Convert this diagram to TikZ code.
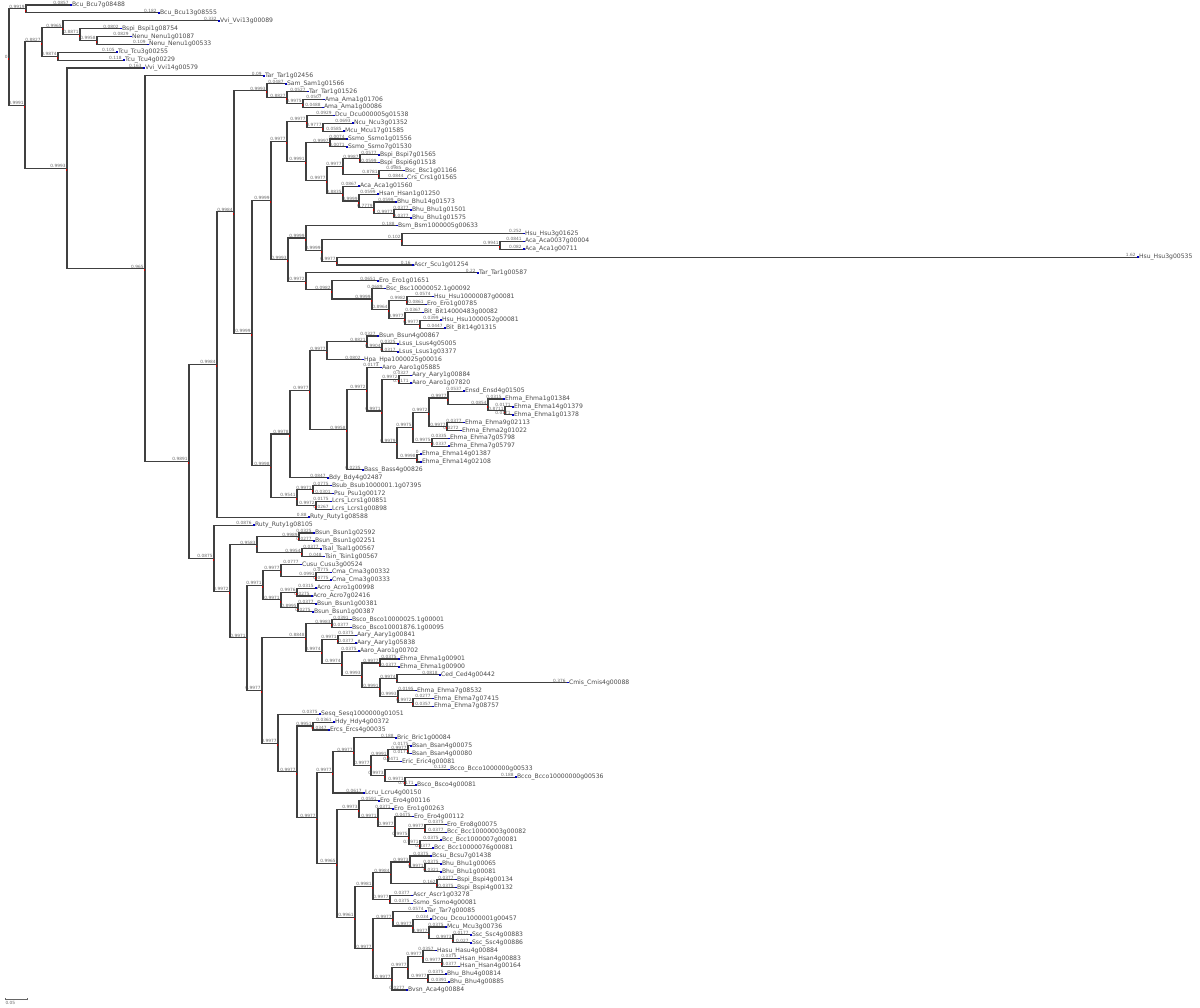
\documentclass[tikz,border=0pt]{standalone}
\usepackage{fontspec}
\setmainfont{DejaVu Sans}
\usetikzlibrary{calc}
\newcommand\TLeaf[5]{%
  \pgfmathsetmacro\tmpy{5+7.88*(#2-1)}%
  \expandafter\let\csname ty@#1\endcsname\tmpy
  \coordinate (#1) at (#3,\tmpy);
  \node[bl] (b-#1) at ([xshift=-1pt]#1) {#4};
  \fill[leafmark] ($(#1)+(0,-0.8)$) rectangle ++(1.6,1.6);
  \node[lf] (t-#1) at ([xshift=1.4pt]#1) {#5};
}
\newcommand\TNode[5]{%
  \edef\tmpa{\csname ty@#3\endcsname}\edef\tmpb{\csname ty@#4\endcsname}%
  \pgfmathsetmacro\tmpy{(\tmpa+\tmpb)/2}%
  \expandafter\let\csname ty@#1\endcsname\tmpy
  \coordinate (#1) at (#2,\tmpy);
  \draw[br] (#1) |- (#3);
  \draw[br] (#1) |- (#4);
  \fill[nodemark] ($(#1)+(-1.2,0.8)$) rectangle ++(1,1.8);
  \node[bl] (b-#1) at ([xshift=-1pt]#1) {#5};
}
\begin{document}
\begin{tikzpicture}[x=1pt,y=-1pt,
  br/.style={draw=black!75, line width=1.1pt},
  bl/.style={font=\fontsize{4.3}{4.3}\selectfont, text=black!58, inner sep=0.3pt, anchor=south east},
  lf/.style={font=\fontsize{6.1}{6.1}\selectfont, text=black!70, inner sep=0.4pt, anchor=west},
  leafmark/.style={fill=blue!75!black},
  nodemark/.style={fill=red!80!black}]
\fill[white] (0,0) rectangle (1200,1008);
\useasboundingbox (0,0) rectangle (1200,1008);
% ---------------- leaves ----------------
\TLeaf{l1}{1}{70}{0.0857}{Bcu\_Bcu7g08488}
\TLeaf{l2}{2}{158}{0.182}{Bcu\_Bcu13g08555}
\TLeaf{l3}{3}{218}{0.332}{Vvi\_Vvi13g00089}
\TLeaf{l4}{4}{120}{0.0802}{Bspi\_Bspi1g08754}
\TLeaf{l5}{5}{130}{0.0829}{Nenu\_Nenu1g01087}
\TLeaf{l6}{6}{147}{0.109}{Nenu\_Nenu1g00533}
\TLeaf{l7}{7}{116}{0.105}{Tcu\_Tcu3g00255}
\TLeaf{l8}{8}{123}{0.118}{Tcu\_Tcu4g00229}
\TLeaf{l9}{9}{143}{0.163}{Vvi\_Vvi14g00579}
\TLeaf{l10}{10}{263}{0.09}{Tar\_Tar1g02456}
\TLeaf{l11}{11}{285}{0.0487}{Sam\_Sam1g01566}
\TLeaf{l12}{12}{307}{0.0527}{Tar\_Tar1g01526}
\TLeaf{l13}{13}{323}{0.0507}{Ama\_Ama1g01706}
\TLeaf{l14}{14}{322}{0.0488}{Ama\_Ama1g00086}
\TLeaf{l15}{15}{333}{0.0929}{Dcu\_Dcu000005g01538}
\TLeaf{l16}{16}{352}{0.0693}{Ncu\_Ncu3g01352}
\TLeaf{l17}{17}{343}{0.0585}{Mcu\_Mcu17g01585}
\TLeaf{l18}{18}{346}{0.0074}{Ssmo\_Ssmo1g01556}
\TLeaf{l19}{19}{346}{0.0071}{Ssmo\_Ssmo7g01530}
\TLeaf{l20}{20}{378}{0.0577}{Bspi\_Bspi7g01565}
\TLeaf{l21}{21}{378}{0.0599}{Bspi\_Bspi6g01518}
\TLeaf{l22}{22}{403}{0.0985}{Bsc\_Bsc1g01166}
\TLeaf{l23}{23}{405}{0.0844}{Crs\_Crs1g01565}
\TLeaf{l24}{24}{358}{0.0867}{Aca\_Aca1g01560}
\TLeaf{l25}{25}{377}{0.0599}{Hsan\_Hsan1g01250}
\TLeaf{l26}{26}{395}{0.0599}{Bhu\_Bhu14g01573}
\TLeaf{l27}{27}{410}{0.0377}{Bhu\_Bhu1g01501}
\TLeaf{l28}{28}{410}{0.0377}{Bhu\_Bhu1g01575}
\TLeaf{l29}{29}{396}{0.188}{Bsm\_Bsm1000005g00633}
\TLeaf{l30}{30}{523}{0.252}{Hsu\_Hsu3g01625}
\TLeaf{l31}{31}{523}{0.0841}{Aca\_Aca0037g00004}
\TLeaf{l32}{32}{523}{0.082}{Aca\_Aca1g00711}
\TLeaf{l33}{33}{1137}{1.62}{Hsu\_Hsu3g00535}
\TLeaf{l34}{34}{412}{0.16}{Ascr\_Scu1g01254}
\TLeaf{l35}{35}{477}{0.22}{Tar\_Tar1g00587}
\TLeaf{l36}{36}{377}{0.0651}{Ero\_Ero1g01651}
\TLeaf{l37}{37}{384}{0.0689}{Bsc\_Bsc10000052.1g00092}
\TLeaf{l38}{38}{432}{0.0574}{Hsu\_Hsu10000087g00081}
\TLeaf{l39}{39}{425}{0.0861}{Ero\_Ero1g00785}
\TLeaf{l40}{40}{422}{0.0367}{Bit\_Bit14000483g00082}
\TLeaf{l41}{41}{440}{0.0399}{Hsu\_Hsu1000052g00081}
\TLeaf{l42}{42}{444}{0.0447}{Bit\_Bit14g01315}
\TLeaf{l43}{43}{377}{0.0327}{Bsun\_Bsun4g00867}
\TLeaf{l44}{44}{397}{0.0325}{Lsus\_Lsus4g05005}
\TLeaf{l45}{45}{397}{0.0317}{Lsus\_Lsus1g03377}
\TLeaf{l46}{46}{362}{0.0802}{Hpa\_Hpa1000025g00016}
\TLeaf{l47}{47}{380}{0.0173}{Aaro\_Aaro1g05885}
\TLeaf{l48}{48}{410}{0.0327}{Aary\_Aary1g00884}
\TLeaf{l49}{49}{410}{0.0171}{Aaro\_Aaro1g07820}
\TLeaf{l50}{50}{463}{0.0537}{Ensd\_Ensd4g01505}
\TLeaf{l51}{51}{503}{0.0315}{Ehma\_Ehma1g01384}
\TLeaf{l52}{52}{512}{0.0171}{Ehma\_Ehma14g01379}
\TLeaf{l53}{53}{512}{0.0171}{Ehma\_Ehma1g01378}
\TLeaf{l54}{54}{463}{0.0377}{Ehma\_Ehma9g02113}
\TLeaf{l55}{55}{460}{0.0272}{Ehma\_Ehma2g01022}
\TLeaf{l56}{56}{448}{0.0335}{Ehma\_Ehma7g05798}
\TLeaf{l57}{57}{448}{0.0337}{Ehma\_Ehma7g05797}
\TLeaf{l58}{58}{420}{0}{Ehma\_Ehma14g01387}
\TLeaf{l59}{59}{420}{0}{Ehma\_Ehma14g02108}
\TLeaf{l60}{60}{362}{0.0235}{Bass\_Bass4g00826}
\TLeaf{l61}{61}{327}{0.0847}{Bdy\_Bdy4g02487}
\TLeaf{l62}{62}{330}{0.0775}{Bsub\_Bsub1000001.1g07395}
\TLeaf{l63}{63}{332}{0.0301}{Psu\_Psu1g00172}
\TLeaf{l64}{64}{330}{0.0175}{Lcrs\_Lcrs1g00851}
\TLeaf{l65}{65}{330}{0.0267}{Lcrs\_Lcrs1g00898}
\TLeaf{l66}{66}{308}{0.88}{Ruty\_Ruty1g08588}
\TLeaf{l67}{67}{253}{0.0876}{Ruty\_Ruty1g08105}
\TLeaf{l68}{68}{313}{0.0325}{Bsun\_Bsun1g02592}
\TLeaf{l69}{69}{313}{0.0277}{Bsun\_Bsun1g02251}
\TLeaf{l70}{70}{320}{0.0377}{Tsal\_Tsal1g00567}
\TLeaf{l71}{71}{323}{0.048}{Tsin\_Tsin1g00567}
\TLeaf{l72}{72}{300}{0.0777}{Cusu\_Cusu3g00524}
\TLeaf{l73}{73}{330}{0.0775}{Cma\_Cma3g00332}
\TLeaf{l74}{74}{330}{0.0775}{Cma\_Cma3g00333}
\TLeaf{l75}{75}{315}{0.0315}{Acro\_Acro1g00998}
\TLeaf{l76}{76}{311}{0.0275}{Acro\_Acro7g02416}
\TLeaf{l77}{77}{315}{0.0377}{Bsun\_Bsun1g00381}
\TLeaf{l78}{78}{312}{0.0275}{Bsun\_Bsun1g00387}
\TLeaf{l79}{79}{350}{0.0391}{Bsco\_Bsco10000025.1g00001}
\TLeaf{l80}{80}{350}{0.0377}{Bsco\_Bsco10001876.1g00095}
\TLeaf{l81}{81}{355}{0.0375}{Aary\_Aary1g00841}
\TLeaf{l82}{82}{355}{0.0377}{Aary\_Aary1g05838}
\TLeaf{l83}{83}{358}{0.0375}{Aaro\_Aaro1g00702}
\TLeaf{l84}{84}{398}{0.0375}{Ehma\_Ehma1g00901}
\TLeaf{l85}{85}{398}{0.0377}{Ehma\_Ehma1g00900}
\TLeaf{l86}{86}{439}{0.0818}{Ced\_Ced4g00442}
\TLeaf{l87}{87}{567}{0.376}{Cmis\_Cmis4g00088}
\TLeaf{l88}{88}{415}{0.0195}{Ehma\_Ehma7g08532}
\TLeaf{l89}{89}{432}{0.0277}{Ehma\_Ehma7g07415}
\TLeaf{l90}{90}{432}{0.0357}{Ehma\_Ehma7g08757}
\TLeaf{l91}{91}{319}{0.0375}{Sesq\_Sesq1000000g01051}
\TLeaf{l92}{92}{333}{0.0361}{Hdy\_Hdy4g00372}
\TLeaf{l93}{93}{328}{0.0347}{Ercs\_Ercs4g00035}
\TLeaf{l94}{94}{395}{0.188}{Bric\_Bric1g00084}
\TLeaf{l95}{95}{410}{0.0175}{Bsan\_Bsan4g00075}
\TLeaf{l96}{96}{410}{0.0177}{Bsan\_Bsan4g00080}
\TLeaf{l97}{97}{400}{0.0471}{Eric\_Eric4g00081}
\TLeaf{l98}{98}{448}{0.132}{Bcco\_Bcco1000000g00533}
\TLeaf{l99}{99}{515}{0.188}{Bcco\_Bcco10000000g00536}
\TLeaf{l100}{100}{415}{0.0171}{Bsco\_Bsco4g00081}
\TLeaf{l101}{101}{363}{0.0617}{Lcru\_Lcru4g00150}
\TLeaf{l102}{102}{378}{0.0591}{Ero\_Ero4g00116}
\TLeaf{l103}{103}{392}{0.0371}{Ero\_Ero1g00263}
\TLeaf{l104}{104}{412}{0.0475}{Ero\_Ero4g00112}
\TLeaf{l105}{105}{445}{0.0375}{Ero\_Ero8g00075}
\TLeaf{l106}{106}{445}{0.0377}{Bcc\_Bcc10000003g00082}
\TLeaf{l107}{107}{440}{0.0375}{Bcc\_Bcc1000007g00081}
\TLeaf{l108}{108}{432}{0.0377}{Bcc\_Bcc10000076g00081}
\TLeaf{l109}{109}{430}{0.0375}{Bcsu\_Bcsu7g01438}
\TLeaf{l110}{110}{440}{0.0375}{Bhu\_Bhu1g00065}
\TLeaf{l111}{111}{440}{0.0321}{Bhu\_Bhu1g00081}
\TLeaf{l112}{112}{455}{0.0377}{Bspi\_Bspi4g00134}
\TLeaf{l113}{113}{455}{0.0375}{Bspi\_Bspi4g00132}
\TLeaf{l114}{114}{411}{0.0377}{Ascr\_Ascr1g03278}
\TLeaf{l115}{115}{411}{0.0375}{Ssmo\_Ssmo4g00081}
\TLeaf{l116}{116}{425}{0.0574}{Tar\_Tar7g00085}
\TLeaf{l117}{117}{430}{0.034}{Dcou\_Dcou1000001g00457}
\TLeaf{l118}{118}{445}{0.0375}{Mcu\_Mcu3g00736}
\TLeaf{l119}{119}{470}{0.0177}{Ssc\_Ssc4g00883}
\TLeaf{l120}{120}{470}{0.027}{Ssc\_Ssc4g00886}
\TLeaf{l121}{121}{435}{0.0357}{Hasu\_Hasu4g00884}
\TLeaf{l122}{122}{458}{0.0375}{Hsan\_Hsan4g00883}
\TLeaf{l123}{123}{458}{0.0377}{Hsan\_Hsan4g00164}
\TLeaf{l124}{124}{445}{0.0375}{Bhu\_Bhu4g00814}
\TLeaf{l125}{125}{448}{0.0391}{Bhu\_Bhu4g00885}
\TLeaf{l126}{126}{406}{0.0277}{Bvsn\_Aca4g00884}
% ---------------- internal nodes ----------------
\TNode{A}{26}{l1}{l2}{0.9919}
\TNode{H}{97}{l5}{l6}{0.9958}
\TNode{G}{80}{l4}{H}{0.8871}
\TNode{E}{63}{l3}{G}{0.9965}
\TNode{F}{58}{l7}{l8}{0.9874}
\TNode{C}{42}{E}{F}{0.8827}
\TNode{R}{303}{l13}{l14}{0.9975}
\TNode{Q}{287}{l12}{R}{0.8827}
\TNode{P}{267}{l11}{Q}{0.9993}
\TNode{Z}{323}{l16}{l17}{0.9777}
\TNode{X}{307}{l15}{Z}{0.9977}
\TNode{ss1}{330}{l18}{l19}{0.9997}
\TNode{bs}{360}{l20}{l21}{0.9987}
\TNode{bk}{379}{l22}{l23}{0.8781}
\TNode{bc}{343}{bs}{bk}{0.9977}
\TNode{bh2}{394}{l27}{l28}{0.9977}
\TNode{bh}{374}{l26}{bh2}{0.7779}
\TNode{hb}{359}{l25}{bh}{0.9999}
\TNode{ah}{343}{l24}{hb}{0.8835}
\TNode{Y2}{327}{bc}{ah}{0.9977}
\TNode{WW}{306}{ss1}{Y2}{0.9991}
\TNode{W}{287}{X}{WW}{0.9977}
\TNode{f}{500}{l31}{l32}{0.9941}
\TNode{d}{402}{l30}{f}{0.102}
\TNode{e}{337}{l33}{l34}{0.9977}
\TNode{c}{322}{d}{e}{0.9999}
\TNode{b}{306}{l29}{c}{0.9999}
\TNode{gg}{420}{l41}{l42}{0.9977}
\TNode{gf}{405}{l40}{gg}{0.9977}
\TNode{ge}{407}{l38}{l39}{0.9982}
\TNode{gd}{389}{ge}{gf}{0.8964}
\TNode{gc}{372}{l37}{gd}{0.9999}
\TNode{ga}{332}{l36}{gc}{0.0982}
\TNode{g}{306}{l35}{ga}{0.9972}
\TNode{SS}{288}{b}{g}{0.9993}
\TNode{S}{271}{W}{SS}{0.9999}
\TNode{U7}{382}{l44}{l45}{0.9904}
\TNode{U6}{367}{l43}{U7}{0.8821}
\TNode{U4}{327}{U6}{l46}{0.9977}
\TNode{U10}{399}{l48}{l49}{0.9972}
\TNode{U16}{505}{l52}{l53}{0.8711}
\TNode{U15}{488}{l51}{U16}{0.0854}
\TNode{U14}{448}{l50}{U15}{0.9977}
\TNode{U17}{447}{l54}{l55}{0.9977}
\TNode{U13}{429}{U14}{U17}{0.9972}
\TNode{U18}{432}{l56}{l57}{0.9975}
\TNode{U12}{413}{U13}{U18}{0.9975}
\TNode{U19}{417}{l58}{l59}{0.9998}
\TNode{U11}{397}{U12}{U19}{0.9979}
\TNode{U9}{382}{U10}{U11}{0.9971}
\TNode{U8}{367}{l47}{U9}{0.9972}
\TNode{U5}{347}{U8}{l60}{0.9958}
\TNode{U3}{310}{U4}{U5}{0.9977}
\TNode{U1}{290}{U3}{l61}{0.9978}
\TNode{Ua}{313}{l62}{l63}{0.9971}
\TNode{Ub}{316}{l64}{l65}{0.9972}
\TNode{U2}{297}{Ua}{Ub}{0.9541}
\TNode{U}{271}{U1}{U2}{0.9998}
\TNode{T}{252}{S}{U}{0.9999}
\TNode{V}{234}{P}{T}{0.9984}
\TNode{K}{217}{V}{l66}{0.9984}
\TNode{L5}{299}{l68}{l69}{0.9989}
\TNode{L6}{302}{l70}{l71}{0.9954}
\TNode{L3}{257}{L5}{L6}{0.9583}
\TNode{L11}{316}{l73}{l74}{0.0991}
\TNode{L9}{281}{l72}{L11}{0.9977}
\TNode{L12}{297}{l75}{l76}{0.9976}
\TNode{L13}{298}{l77}{l78}{0.8995}
\TNode{L10}{281}{L12}{L13}{0.9971}
\TNode{L7}{263}{L9}{L10}{0.9971}
\TNode{L16}{332}{l79}{l80}{0.9983}
\TNode{L18}{338}{l81}{l82}{0.9971}
\TNode{L21}{380}{l84}{l85}{0.9977}
\TNode{L23}{397}{l86}{l87}{0.9974}
\TNode{L25}{413}{l89}{l90}{0.9972}
\TNode{L24}{398}{l88}{L25}{0.9993}
\TNode{L22}{380}{L23}{L24}{0.9991}
\TNode{L20}{362}{L21}{L22}{0.9993}
\TNode{L19}{342}{l83}{L20}{0.9974}
\TNode{L17}{322}{L18}{L19}{0.9974}
\TNode{L14}{306}{L16}{L17}{0.8848}
\TNode{L27}{313}{l92}{l93}{0.9951}
\TNode{L35}{408}{l95}{l96}{0.9977}
\TNode{L33}{388}{L35}{l97}{0.9991}
\TNode{L36}{405}{l99}{l100}{0.9971}
\TNode{L34}{385}{l98}{L36}{0.9973}
\TNode{L32}{371}{L33}{L34}{0.9977}
\TNode{L31}{354}{l94}{L32}{0.9977}
\TNode{L29}{333}{L31}{l101}{0.9977}
\TNode{L44}{425}{l105}{l106}{0.9977}
\TNode{L45}{420}{l107}{l108}{0.9971}
\TNode{L42}{409}{L44}{L45}{0.9975}
\TNode{L41}{395}{l104}{L42}{0.9977}
\TNode{L40}{378}{l103}{L41}{0.9971}
\TNode{L37}{359}{l102}{L40}{0.9973}
\TNode{L52}{425}{l110}{l111}{0.9971}
\TNode{L50}{410}{l109}{L52}{0.9973}
\TNode{L51}{437}{l112}{l113}{0.162}
\TNode{L48}{391}{L50}{L51}{0.9984}
\TNode{L49}{390}{l114}{l115}{0.9977}
\TNode{L46}{373}{L48}{L49}{0.9981}
\TNode{L57}{453}{l119}{l120}{0.9973}
\TNode{L56}{429}{l118}{L57}{0.9977}
\TNode{L55}{413}{l117}{L56}{0.9977}
\TNode{L53}{393}{l116}{L55}{0.9977}
\TNode{L61}{442}{l122}{l123}{0.9977}
\TNode{L59}{423}{l121}{L61}{0.9977}
\TNode{L60}{428}{l124}{l125}{0.9977}
\TNode{L58}{408}{L59}{L60}{0.9977}
\TNode{L54}{392}{L58}{l126}{0.9977}
\TNode{L47}{373}{L53}{L54}{0.9977}
\TNode{L38}{355}{L46}{L47}{0.9961}
\TNode{L30}{337}{L37}{L38}{0.9965}
\TNode{L28}{317}{L29}{L30}{0.9977}
\TNode{L26}{297}{L27}{L28}{0.9977}
\TNode{L15}{278}{l91}{L26}{0.9977}
\TNode{L8}{262}{L14}{L15}{0.9977}
\TNode{L4}{247}{L7}{L8}{0.9971}
\TNode{L2}{230}{L3}{L4}{0.9972}
\TNode{L}{214}{l67}{L2}{0.0875}
\TNode{J}{189}{K}{L}{0.9891}
\TNode{I}{145}{l10}{J}{0.965}
\TNode{D}{67}{l9}{I}{0.9993}
\TNode{B}{25}{C}{D}{0.9991}
\TNode{root}{9}{A}{B}{}
\node[bl, anchor=east] (rootlabel) at ([xshift=-1pt]root) {0};
% scale bar
\coordinate (sb1) at (5,999);
\coordinate (sb2) at (27,999);
\draw[black!60, line width=0.5pt] (sb1) -- (sb2);
\draw[black!60, line width=0.5pt] ([yshift=-1pt]sb1) -- ([yshift=1pt]sb1);
\draw[black!60, line width=0.5pt] ([yshift=-1pt]sb2) -- ([yshift=1pt]sb2);
\node[bl, anchor=north west] (sblabel) at ([yshift=-1.5pt]sb1) {0.05};
\end{tikzpicture}
\end{document}
